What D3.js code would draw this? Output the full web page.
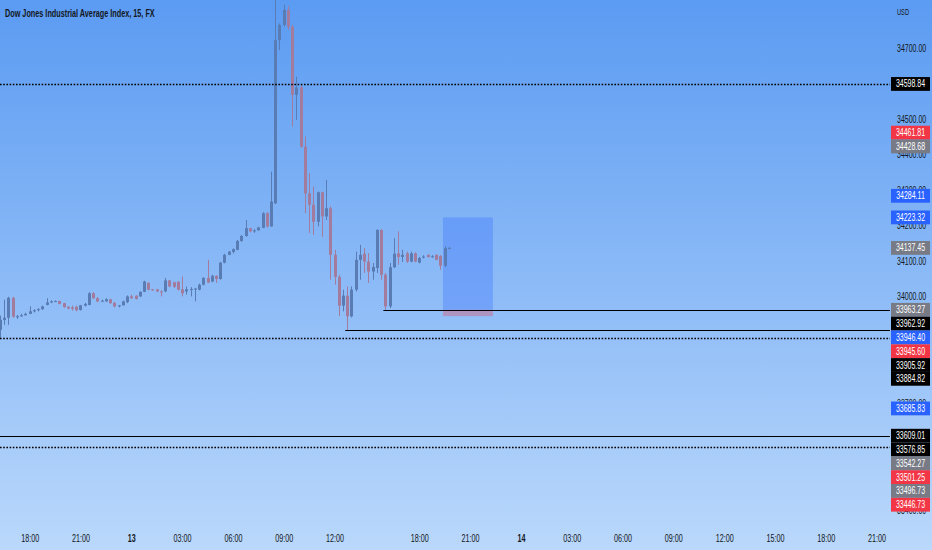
<!DOCTYPE html>
<html>
<head>
<meta charset="utf-8">
<script src="https://cdn.jsdelivr.net/npm/d3@7"></script>
<style>
html, body { margin: 0; padding: 0; background: #fff; }
svg { display: block; font-family: "Liberation Sans", Arial, sans-serif; }
</style>
</head>
<body>
<div id="chart"></div>
<script>
const chartTitle = "Dow Jones Industrial Average Index, 15, FX";

// 15 min candles, bar index 0 = left edge of the picture
const candleOpen = [33907,33935,33941,33997,33944,33945,33948,33952,33959,33962,
	33965,33977,33984,33987,33988,33982,33972,33970,33972,33963,
	33975,33977,34010,33996,33987,33987,33993,33983,33973,33976,
	33985,34001,34003,34001,34014,34039,34021,34021,34015,34015,
	34046,34041,34042,34021,34015,34021,34022,34020,34034,34053,
	34043,34059,34050,34096,34118,34126,34132,34157,34171,34193,
	34184,34187,34194,34235,34198,34263,34722,34765,34807,34760,
	34568,34589,34422,34291,34259,34211,34294,34226,34249,34118,
	34056,33975,34003,33945,34020,34104,34121,34099,34071,34081,
	34188,34062,33973,34083,34122,34112,34122,34099,34122,34096,
	34110,34118,34112,34118,34115,34087,34137];
const candleHigh = [33947,33992,34000,34000,33949,33952,33955,33973,33965,33968,
	33975,33996,33990,33990,33989,33983,33973,33975,33975,33977,
	33983,34013,34013,33999,33992,33996,33994,33985,33977,33989,
	34004,34006,34004,34015,34045,34041,34022,34022,34018,34053,
	34047,34042,34044,34057,34029,34027,34025,34037,34055,34104,
	34062,34060,34098,34121,34129,34136,34160,34174,34216,34194,
	34190,34197,34238,34238,34352,34840,34769,34822,34818,34765,
	34619,34596,34451,34348,34310,34296,34296,34329,34254,34132,
	34062,34020,34029,34029,34127,34146,34137,34123,34095,34190,
	34190,34067,34095,34165,34184,34132,34127,34127,34125,34112,
	34117,34119,34117,34119,34117,34142,34140];
const candleLow = [33884.82,33921,33921,33941,33938,33944,33947,33951,33956,33959,
	33963,33976,33982,33985,33979,33969,33965,33961,33959,33961,
	33973,33976,33994,33985,33986,33986,33980,33970,33970,33975,
	33982,33994,33992,34000,34013,34018,34017,34013,34001,34013,
	34027,34025,34018,34001,34006,34001,33987,34018,34032,34039,
	34041,34039,34048,34094,34117,34122,34131,34155,34169,34181,
	34180,34186,34193,34195,34197,34261,34694,34760,34751,34479,
	34498,34420,34235,34179,34174,34198,34169,34216,34048,34034,
	33945.6,33959,33905.92,33942,34015,34048,34067,34039,34048,34067,
	34048,33963.27,33968,34081,34090,34098,34095,34097,34097,34094,
	34108,34110,34110,34103,34076,34084,34135];
const candleClose = [33935,33941,33997,33944,33945,33948,33952,33959,33962,33965,
	33973,33984,33987,33988,33980,33971,33967,33966,33962,33976,
	33980,34010,33996,33987,33989,33993,33982,33973,33976,33987,
	34001,33996,33994,34014,34043,34020,34018,34015,34013,34046,
	34029,34028,34020,34010,34021,34022,34023,34034,34053,34040,
	34059,34050,34096,34118,34127,34134,34157,34171,34193,34184,
	34187,34195,34235,34198,34268,34722,34765,34807,34760,34568,
	34589,34422,34291,34259,34211,34294,34226,34249,34118,34056,
	33975,34003,33945,34020,34104,34118,34099,34071,34084,34188,
	34062,33973,34083,34121,34112,34118,34099,34122,34099,34109,
	34113,34112,34114,34104,34087,34137,34137.45];

// time axis
const timeTickIndex = [7, 19, 31, 43, 55, 67, 79, 99, 111, 123, 135, 147, 159, 171, 183, 195, 207];
const timeTickLabel = ["18:00","21:00","13","03:00","06:00","09:00","12:00","18:00","21:00","14","03:00","06:00","09:00","12:00","15:00","18:00","21:00"];

// price axis
const priceTicks = [33400, 33500, 33600, 33700, 33800, 33900, 34000, 34100, 34200, 34300, 34400, 34500, 34600, 34700];
const currencyLabel = "USD";

// horizontal levels
const dottedLevels = [34598.84, 33884.82, 33576.85];
const solidLevels = [33609.01];
const rayLevels = [33963.27, 33905.92];
const rayStartIndex = [91, 82];

// long position tool
const positionStartIndex = 104.6;
const positionEndIndex = 116.4;
const positionTarget = 34223.32;
const positionEntry = 33963.27;
const positionStop = 33945.60;

// price tags on the right scale
const tagValues = [34598.84, 34461.81, 34428.68, 34284.11, 34223.32, 34137.45, 33963.27, 33962.92, 33946.40,
	33945.60, 33905.92, 33884.82, 33685.83, 33609.01, 33576.85, 33542.27, 33501.25, 33496.73, 33446.73];
const tagKinds = ["black", "red", "gray", "blue", "blue", "gray", "gray", "black", "blue",
	"red", "black", "black", "blue", "black", "black", "gray", "red", "gray", "red"];

const width = 932;
const height = 550;
const plotRight = 890;
const tagColor = { black: "#000000", red: "#f23645", gray: "#787b86", blue: "#2962ff" };
const upColor = "#587cb3";
const downColor = "#a27b9d";
const textColor = "#131722";

let svg = d3.select("#chart").append("svg")
	.attr("width", width)
	.attr("height", height);

/* background */
let defs = svg.append("defs");
let grad = defs.append("linearGradient")
	.attr("id", "bg")
	.attr("x1", 0).attr("x2", 0).attr("y1", 0).attr("y2", 1);
grad.append("stop").attr("offset", "0%").attr("stop-color", "#5b9bf2");
grad.append("stop").attr("offset", "100%").attr("stop-color", "#bad8fb");
defs.append("clipPath").attr("id", "plot")
	.append("rect").attr("x", 0).attr("y", 0).attr("width", plotRight).attr("height", height);

svg.append("rect")
	.attr("width", width)
	.attr("height", height)
	.attr("fill", "url(#bg)");

/* scales */
let xScale = d3.scaleLinear().domain([0, 207]).range([0, 876.6]);
let yScale = d3.scaleLinear().domain([33400, 34700]).range([510, 48]);

// squeeze text horizontally (the reference font is narrow)
function squeeze(sel, k, dx, dy) {
	sel.attr("transform", "translate(" + (dx || 0) + "," + (dy || 0) + ") scale(" + k + ",1)");
}

let plot = svg.append("g").attr("clip-path", "url(#plot)");

/* position tool */
plot.append("rect")
	.attr("x", xScale(positionStartIndex))
	.attr("width", xScale(positionEndIndex) - xScale(positionStartIndex))
	.attr("y", yScale(positionTarget))
	.attr("height", yScale(positionEntry) - yScale(positionTarget))
	.attr("fill", "rgba(41,98,255,0.28)");
plot.append("rect")
	.attr("x", xScale(positionStartIndex))
	.attr("width", xScale(positionEndIndex) - xScale(positionStartIndex))
	.attr("y", yScale(positionEntry))
	.attr("height", yScale(positionStop) - yScale(positionEntry))
	.attr("fill", "rgba(242,54,69,0.3)");

/* candles */
let candles = candleOpen.map((o, i) => ({
	i: i, o: o, h: candleHigh[i], l: candleLow[i], c: candleClose[i]
}));
let bodyW = 3;
let cg = plot.append("g").attr("class", "candles")
	.selectAll("g")
	.data(candles).enter()
	.append("g")
	.attr("fill", d => d.c >= d.o ? upColor : downColor)
	.attr("stroke", d => d.c >= d.o ? upColor : downColor);
cg.append("line")
	.attr("x1", d => Math.round(xScale(d.i)) + 0.5)
	.attr("x2", d => Math.round(xScale(d.i)) + 0.5)
	.attr("y1", d => yScale(d.h))
	.attr("y2", d => yScale(d.l))
	.attr("stroke-width", 1);
cg.append("rect")
	.attr("x", d => Math.round(xScale(d.i)) + 0.5 - bodyW / 2)
	.attr("width", bodyW)
	.attr("y", d => yScale(Math.max(d.o, d.c)))
	.attr("height", d => Math.max(1, Math.abs(yScale(d.o) - yScale(d.c))))
	.attr("stroke", "none");

/* levels */
plot.selectAll(".dotted")
	.data(dottedLevels).enter()
	.append("line")
	.attr("class", "dotted")
	.attr("x1", 0).attr("x2", plotRight)
	.attr("y1", d => Math.round(yScale(d)) + 0.5)
	.attr("y2", d => Math.round(yScale(d)) + 0.5)
	.attr("stroke", "#000")
	.attr("stroke-width", 1.3)
	.attr("stroke-dasharray", "1.6,1.6");
plot.selectAll(".solid")
	.data(solidLevels).enter()
	.append("line")
	.attr("class", "solid")
	.attr("x1", 0).attr("x2", plotRight)
	.attr("y1", d => Math.round(yScale(d)) + 0.5)
	.attr("y2", d => Math.round(yScale(d)) + 0.5)
	.attr("stroke", "#000")
	.attr("stroke-width", 1.2);
plot.selectAll(".ray")
	.data(rayLevels).enter()
	.append("line")
	.attr("class", "ray")
	.attr("x1", (d, i) => xScale(rayStartIndex[i]) - 2).attr("x2", plotRight)
	.attr("y1", d => Math.round(yScale(d)) + 0.5)
	.attr("y2", d => Math.round(yScale(d)) + 0.5)
	.attr("stroke", "#000")
	.attr("stroke-width", 1.2);

/* title */
let title = svg.append("text")
	.attr("fill", textColor)
	.style("font-size", "10.5px")
	.style("font-weight", "bold")
	.text(chartTitle);
squeeze(title, 150 / title.node().getComputedTextLength(), 5, 16.5);

/* price tags, pushed apart so they do not overlap */
let tagH = 13.8;
let tags = tagValues.map((v, i) => ({ v: v, kind: tagKinds[i] }))
	.sort((a, b) => b.v - a.v);
let lastY = -Infinity;
tags.forEach(t => {
	let y = yScale(t.v);
	if (y < lastY + tagH) y = lastY + tagH;
	t.y = y;
	lastY = y;
});

/* price axis: a tick whose label is wholly under the tags is left out */
function coveredAt(y) {
	return tags.some(t => y >= t.y - tagH / 2 - 0.3 && y <= t.y + tagH / 2 + 0.3);
}
let shownTicks = priceTicks.filter(p => {
	let y = yScale(p);
	return !(coveredAt(y - 4) && coveredAt(y) && coveredAt(y + 4));
});
let yAxis = d3.axisRight(yScale)
	.tickValues(shownTicks)
	.tickFormat(d => d.toFixed(2))
	.tickSize(0);
let yg = svg.append("g")
	.attr("class", "y axis")
	.attr("transform", "translate(897,0)")
	.call(yAxis);
yg.select(".domain").remove();
yg.selectAll("text")
	.attr("x", 0)
	.attr("fill", textColor)
	.style("font-size", "10px")
	.style("font-family", "'Liberation Sans', Arial, sans-serif");
squeeze(yg.selectAll("text"), 0.7);
let usd = svg.append("text")
	.attr("fill", textColor)
	.style("font-size", "9.5px")
	.text(currencyLabel);
squeeze(usd, 0.6, 897, 15);

/* time axis */
let xAxis = d3.axisBottom(xScale)
	.tickValues(timeTickIndex)
	.tickFormat((d, i) => timeTickLabel[i])
	.tickSize(0);
let xg = svg.append("g")
	.attr("class", "x axis")
	.attr("transform", "translate(0,532)")
	.call(xAxis);
xg.select(".domain").remove();
xg.selectAll("text")
	.attr("fill", textColor)
	.style("font-size", "10px")
	.style("font-family", "'Liberation Sans', Arial, sans-serif")
	.style("font-weight", (d, i) => timeTickLabel[i].length < 3 ? "bold" : "normal");
squeeze(xg.selectAll("text"), 0.72);

/* tags */
let tg = svg.append("g").attr("class", "tags")
	.selectAll("g")
	.data(tags).enter()
	.append("g")
	.attr("transform", d => "translate(891," + d.y + ")");
tg.append("rect")
	.attr("x", 0)
	.attr("y", -tagH / 2)
	.attr("width", 39)
	.attr("height", tagH)
	.attr("fill", d => tagColor[d.kind]);
let tagText = tg.append("text")
	.attr("text-anchor", "middle")
	.attr("fill", "#fff")
	.style("font-size", "10px")
	.text(d => d.v.toFixed(2));
squeeze(tagText, 0.7, 19.5, 3.5);
</script>
</body>
</html>
